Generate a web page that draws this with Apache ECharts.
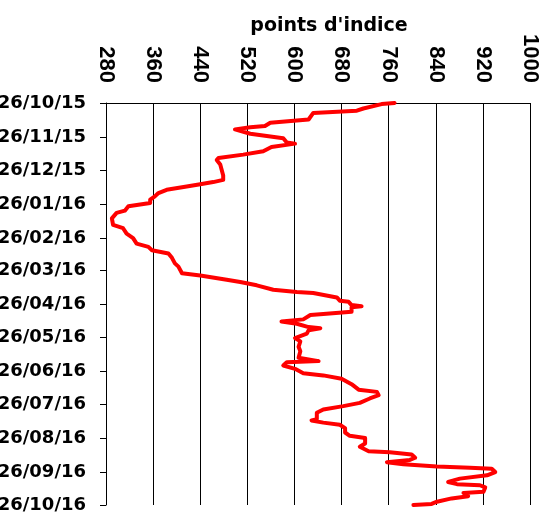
<!DOCTYPE html>
<html>
<head>
<meta charset="utf-8">
<script src="https://cdn.jsdelivr.net/npm/echarts@6/dist/echarts.min.js"></script>
<style>
  html, body { margin: 0; padding: 0; background: #fff; }
  #chart { width: 549px; height: 517px; }
</style>
</head>
<body>
<div id="chart"></div>
<script>
// time runs down the page: days counted from 26/10/15
var tickDays   = [0, 31, 61, 92, 123, 152, 183, 213, 244, 274, 305, 336, 366];
var tickLabels = ["26/10/15", "26/11/15", "26/12/15", "26/01/16", "26/02/16", "26/03/16",
                  "26/04/16", "26/05/16", "26/06/16", "26/07/16", "26/08/16", "26/09/16", "26/10/16"];
var xTicks = [280, 360, 440, 520, 600, 680, 760, 840, 920, 1000];

// index path (points d'indice)
var days = [0, 1, 5, 7, 9, 15, 16, 18, 21, 22, 24, 28, 32, 36, 37, 40, 44, 47, 50, 52,
            56, 66, 70, 72, 74, 76, 79, 82, 85, 88, 91, 94, 98, 100, 105, 111, 114, 119, 123, 128,
            131, 134, 137, 141, 146, 149, 155, 157, 161, 163, 166, 170, 172, 173, 177, 180, 181, 184, 185, 186,
            190, 192, 193, 197, 199, 201, 204, 205, 207, 210, 214, 217, 222, 226, 232, 235, 236, 239, 242, 246,
            248, 251, 256, 261, 263, 266, 269, 273, 276, 279, 282, 288, 289, 291, 293, 296, 300, 303, 305, 310,
            313, 317, 318, 320, 323, 325, 327, 329, 331, 332, 333, 336, 339, 342, 345, 347, 348, 350, 354, 355,
            358, 360, 363, 365, 366];
var values = [770, 748, 717, 706, 632, 624, 604, 559, 550, 525, 499, 525, 581, 587, 601, 561, 547, 513, 471, 468,
              474, 479, 479, 462, 440, 417, 383, 369, 363, 355, 355, 318, 312, 298, 290, 292, 309, 315, 326, 332,
              352, 358, 386, 392, 397, 403, 409, 440, 485, 508, 536, 564, 604, 632, 672, 677, 692, 697, 714, 697,
              697, 649, 627, 615, 578, 604, 624, 644, 624, 621, 601, 610, 607, 610, 607, 641, 587, 581, 601, 615,
              649, 680, 697, 709, 740, 743, 728, 711, 683, 649, 638, 638, 629, 649, 677, 686, 686, 694, 720, 720,
              711, 726, 762, 799, 805, 796, 757, 785, 842, 898, 935, 941, 927, 881, 861, 876, 915, 924, 921, 887,
              895, 867, 842, 833, 802];

var sans = '"DejaVu Sans", Arial, sans-serif';
var arial = '"Liberation Sans", Arial, sans-serif';

var chart = echarts.init(document.getElementById("chart"), null, { renderer: "canvas" });
chart.setOption({
  animation: false,
  backgroundColor: "#fff",
  title: {
    text: "points d'indice",
    left: 324, top: 12, textAlign: "center",
    textStyle: { fontFamily: sans, fontWeight: "bold", fontSize: 19, color: "#000" }
  },
  grid: { left: 106, right: 19, top: 103, bottom: 12, containLabel: false, outerBoundsMode: "none" },
  xAxis: {
    type: "value", position: "top",
    min: xTicks[0], max: xTicks[xTicks.length - 1], interval: 80,
    axisLine: { show: true, lineStyle: { color: "#000", width: 1 } },
    axisTick: { show: false },
    axisLabel: {
      rotate: -90, margin: 20, color: "#000", fontFamily: arial, fontWeight: "bold", fontSize: 22,
      formatter: function (v) { return String(v); }
    },
    splitLine: { show: true, lineStyle: { color: "#000", width: 1 } }
  },
  yAxis: {
    type: "value", inverse: true,
    min: tickDays[0], max: tickDays[tickDays.length - 1],
    axisLine: { show: true, lineStyle: { color: "#000", width: 1 } },
    axisTick: { show: true, length: 6, customValues: tickDays, lineStyle: { color: "#000" } },
    axisLabel: {
      customValues: tickDays, margin: 20, color: "#000",
      fontFamily: sans, fontWeight: "bold", fontSize: 18,
      formatter: function (v) { return tickLabels[tickDays.indexOf(v)]; }
    },
    splitLine: { show: false }
  },
  series: [{
    type: "line",
    data: values.map(function (v, i) { return [v, days[i]]; }),
    showSymbol: false,
    clip: false,
    lineStyle: { color: "#ff0000", width: 4, join: "round", cap: "round" }
  }]
});
</script>
</body>
</html>
